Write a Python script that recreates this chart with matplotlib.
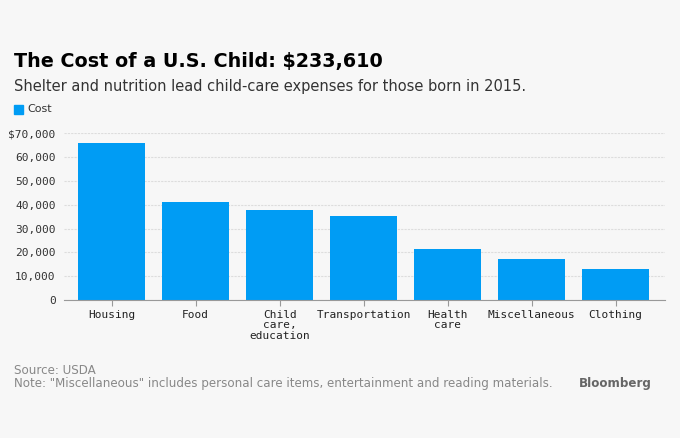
import matplotlib.pyplot as plt
from matplotlib.patches import Rectangle

# data
categories = ['Housing', 'Food', 'Child\ncare,\neducation', 'Transportation',
              'Health\ncare', 'Miscellaneous', 'Clothing']
costs = [65800, 41100, 37800, 35200, 21400, 17200, 13000]
yticks = [0, 10000, 20000, 30000, 40000, 50000, 60000, 70000]
ytick_labels = ['0', '10,000', '20,000', '30,000', '40,000', '50,000', '60,000', '$70,000']

bg = '#f7f7f7'
blue = '#009cf4'

fig = plt.figure(figsize=(6.8, 4.38), dpi=100, facecolor=bg)
ax = fig.add_axes([0.094, 0.315, 0.884, 0.381], facecolor=bg)

ax.bar(range(len(costs)), costs, width=0.8, color=blue, zorder=2)
ax.set_xlim(-0.57, 6.59)
ax.set_ylim(0, 70000)

ax.set_yticks(yticks)
ax.set_yticklabels(ytick_labels, family='DejaVu Sans Mono', fontsize=8, color='#333333')
ax.set_xticks(range(len(categories)))
ax.set_xticklabels(categories, family='DejaVu Sans Mono', fontsize=8, color='#222222',
                   linespacing=1.05, va='top')
ax.tick_params(axis='y', length=0, pad=6)
ax.tick_params(axis='x', length=4, color='#999999', pad=3)
ax.grid(axis='y', color='#dddddd', linestyle=(0, (2, 1)), linewidth=0.8, zorder=0)
for s in ['top', 'right', 'left']:
    ax.spines[s].set_visible(False)
ax.spines['bottom'].set_color('#999999')
ax.spines['bottom'].set_zorder(3)

# titles
fig.text(14 / 680, 1 - 62 / 438, 'The Cost of a U.S. Child: $233,610', fontsize=13.8,
         fontweight='bold', color='black', va='center')
fig.text(14 / 680, 1 - 86 / 438, 'Shelter and nutrition lead child-care expenses for those born in 2015.',
         fontsize=10.5, color='#333333', va='center')

# legend
fig.patches.append(Rectangle((14 / 680, 1 - 114 / 438), 9 / 680, 9 / 438,
                             transform=fig.transFigure, color=blue))
fig.text(27 / 680, 1 - 109.5 / 438, 'Cost', fontsize=8, color='#333333', va='center')

# footer
fig.text(14 / 680, 1 - 370 / 438, 'Source: USDA', fontsize=8.6, color='#888888', va='center')
fig.text(14 / 680, 1 - 384 / 438,
         'Note: "Miscellaneous" includes personal care items, entertainment and reading materials.',
         fontsize=8.6, color='#888888', va='center')
fig.text(652 / 680, 1 - 383 / 438, 'Bloomberg', fontsize=8.6, fontweight='bold', color='#666666',
         va='center', ha='right')

fig.savefig('out.png', dpi=100, facecolor=bg)
